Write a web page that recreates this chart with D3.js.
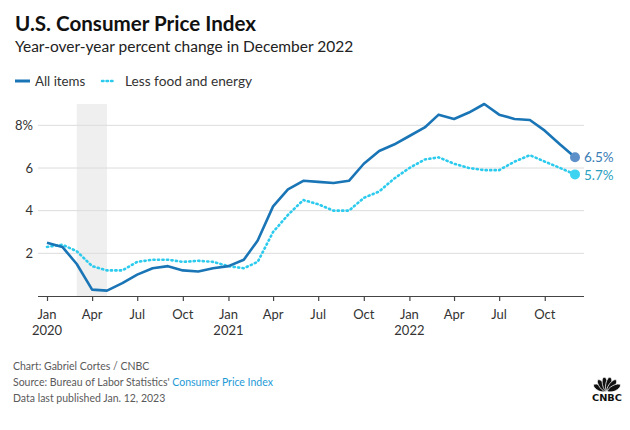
<!DOCTYPE html>
<html><head><meta charset="utf-8">
<script src="https://cdn.jsdelivr.net/npm/d3@7"></script>
<style>
body{margin:0;background:#fff;}
svg{display:block;font-family:Lato,"Open Sans",sans-serif;}
</style></head><body>
<svg id="c" width="630" height="430"></svg>
<script>
const months = d3.range(36).map(i => new Date(2020, i, 1));
const allItems = [2.5,2.3,1.5,0.3,0.25,0.6,1.0,1.3,1.4,1.2,1.15,1.3,
                  1.4,1.7,2.6,4.2,5.0,5.4,5.35,5.3,5.4,6.2,6.8,7.1,
                  7.5,7.9,8.5,8.3,8.6,9.0,8.5,8.3,8.25,7.75,7.1,6.5];
const core = [2.3,2.4,2.1,1.4,1.2,1.2,1.6,1.7,1.7,1.6,1.65,1.6,
              1.4,1.3,1.6,3.0,3.8,4.5,4.3,4.0,4.0,4.6,4.9,5.5,
              6.0,6.4,6.5,6.2,6.0,5.9,5.9,6.3,6.6,6.3,6.0,5.7];
const yTicks = [2,4,6,8];
const xTickMonths = d3.range(0,36,3);
const monthNames = ["Jan","Apr","Jul","Oct"];
const recession = [new Date(2020,2,1), new Date(2020,4,1)];
const endLabels = ["6.5%","5.7%"];

const svg = d3.select("#c");
const x = d3.scaleTime().domain([new Date(2020,0,1), new Date(2022,11,1)]).range([47,575]);
const y = d3.scaleLinear().domain([0,9]).range([296,104]);

// title
svg.append("text").attr("x",15).attr("y",31).attr("font-size",20.6).attr("font-weight",700).attr("fill","#111").text("U.S. Consumer Price Index");
svg.append("text").attr("x",15).attr("y",52).attr("font-size",15.5).attr("fill","#222").text("Year-over-year percent change in December 2022");

// legend
const lg = svg.append("g");
lg.append("line").attr("x1",15).attr("x2",30).attr("y1",81).attr("y2",81).attr("stroke","#1a75b6").attr("stroke-width",3);
lg.append("text").attr("x",35).attr("y",85.5).attr("font-size",13.3).attr("fill","#333").text("All items");
lg.append("line").attr("x1",102).attr("x2",114).attr("y1",81).attr("y2",81).attr("stroke","#2ccbee").attr("stroke-width",2.5).attr("stroke-dasharray","1.5,3").attr("stroke-linecap","round");
lg.append("text").attr("x",125).attr("y",85.5).attr("font-size",13.7).attr("fill","#333").text("Less food and energy");

// recession shading
svg.append("rect").attr("x",x(recession[0])).attr("width",x(recession[1])-x(recession[0]))
  .attr("y",y(9)).attr("height",y(0)-y(9)).attr("fill","#efefef");

// gridlines
svg.append("g").selectAll("line").data(yTicks).join("line")
  .attr("x1",38).attr("x2",584).attr("y1",d=>y(d)).attr("y2",d=>y(d))
  .attr("stroke","#dcdcdc").attr("stroke-width",1);
svg.append("g").selectAll("text").data(yTicks).join("text")
  .attr("x",33).attr("y",d=>y(d)+4.5).attr("text-anchor","end").attr("font-size",13).attr("fill","#333")
  .text(d=> d===8 ? "8%" : d);

// x axis
const xAxis = d3.axisBottom(x).tickValues(xTickMonths.map(i=>months[i])).tickSize(5).tickFormat("");
const ax = svg.append("g").attr("transform","translate(0,296)").call(xAxis);
ax.select(".domain").attr("d","M38,0.5H584").attr("stroke","#444").attr("stroke-width",1.2);
ax.selectAll(".tick line").attr("stroke","#444").attr("stroke-width",1.2);
const lab = svg.append("g").selectAll("text").data(xTickMonths).join("text")
  .attr("x",i=>x(months[i])).attr("y",319).attr("text-anchor","middle").attr("font-size",13).attr("fill","#333");
lab.append("tspan").text(i=>monthNames[(i%12)/3]);
lab.filter(i=>i%12===0).append("tspan").attr("x",i=>x(months[i])).attr("dy",16).text(i=>months[i].getFullYear());

// lines
const line = d3.line().x((d,i)=>x(months[i])).y(d=>y(d));
svg.append("path").datum(core).attr("d",line).attr("fill","none").attr("stroke","#2ccbee").attr("stroke-width",2.6)
  .attr("stroke-dasharray","1.2,3.3").attr("stroke-linecap","round");
svg.append("path").datum(allItems).attr("d",line).attr("fill","none").attr("stroke","#1a75b6").attr("stroke-width",2.6).attr("stroke-linejoin","round");

// endpoints
const last = months[35];
svg.append("circle").attr("cx",x(last)).attr("cy",y(allItems[35])).attr("r",5).attr("fill","#5d8fc8");
svg.append("circle").attr("cx",x(last)).attr("cy",y(core[35])).attr("r",5).attr("fill","#3fd3f2");
svg.append("text").attr("x",584).attr("y",y(allItems[35])+5).attr("font-size",13.5).attr("fill","#3a7cb5").text(endLabels[0]);
svg.append("text").attr("x",584).attr("y",y(core[35])+5.5).attr("font-size",13.5).attr("fill","#2a9fc0").text(endLabels[1]);

// footer
const f = svg.append("g").attr("font-size",10.5).attr("fill","#5a5a5a");
f.append("text").attr("x",13).attr("y",369.5).text("Chart: Gabriel Cortes / CNBC");
const s = f.append("text").attr("x",13).attr("y",386);
s.append("tspan").text("Source: Bureau of Labor Statistics' ");
s.append("tspan").attr("fill","#1d9ad6").text("Consumer Price Index");
f.append("text").attr("x",13).attr("y",402).text("Data last published Jan. 12, 2023");

// CNBC logo (peacock)
const logo = svg.append("g").attr("transform","translate(607,392)");
const ang = [-62,-37,-12,12,37,62];
logo.selectAll("ellipse").data(ang).join("ellipse")
  .attr("cx",0).attr("cy",-8).attr("rx",2.9).attr("ry",7.2)
  .attr("transform",a=>`rotate(${a})`).attr("fill","#111").attr("stroke","#fff").attr("stroke-width",0.7);
logo.append("rect").attr("x",-16).attr("y",-0.5).attr("width",32).attr("height",2).attr("fill","#fff");
logo.append("text").attr("x",-15).attr("y",9).attr("font-size",8).attr("font-weight",900)
  .attr("font-family","'DejaVu Sans',sans-serif").attr("fill","#111").attr("textLength",30).attr("lengthAdjust","spacingAndGlyphs").text("CNBC");
</script>
</body></html>
